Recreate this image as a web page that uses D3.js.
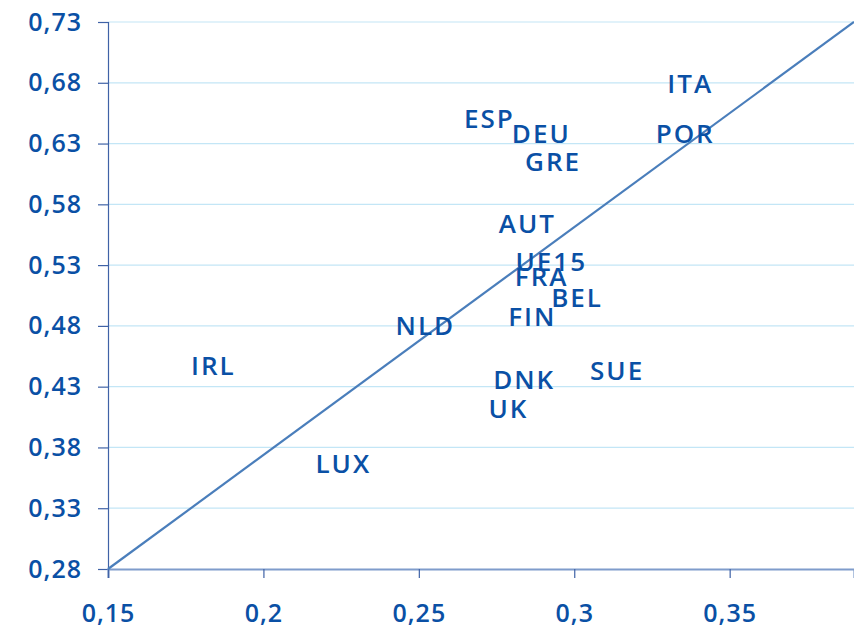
<!DOCTYPE html>
<html lang="en">
<head>
    <meta charset="UTF-8">
    <title>Scatter with diagonal</title>
    <script src="https://cdnjs.cloudflare.com/ajax/libs/d3/7.8.5/d3.min.js"></script>
    <style>
        html, body { margin: 0; padding: 0; background: #fff; }
        svg text { font-family: "Open Sans", sans-serif; font-weight: 600; fill: #0a50a5; }
    </style>
</head>
<body>
    <div id="chart"></div>
    <script>
        // Country codes and their (x, y) values
        const countries = ["ITA", "POR", "ESP", "DEU", "GRE", "AUT", "UE15", "FRA", "BEL", "FIN", "NLD", "IRL", "LUX", "DNK", "UK", "SUE"];
        const xValues = [0.3373, 0.3357, 0.2727, 0.2894, 0.2932, 0.2849, 0.2926, 0.2895, 0.3009, 0.2865, 0.2521, 0.1839, 0.2257, 0.2839, 0.2788, 0.3138];
        const yValues = [0.680, 0.639, 0.651, 0.639, 0.6155, 0.5645, 0.5332, 0.5209, 0.504, 0.488, 0.4806, 0.448, 0.367, 0.4361, 0.4123, 0.4435];

        // Reference diagonal
        const lineX = [0.15, 0.39];
        const lineY = [0.28, 0.73];

        // Tick labels
        const xTicks = [0.15, 0.2, 0.25, 0.3, 0.35];
        const yTicks = [0.28, 0.33, 0.38, 0.43, 0.48, 0.53, 0.58, 0.63, 0.68, 0.73];

        const W = 854, H = 628;
        const margin = { top: 22, right: 0, bottom: 59, left: 108 };

        const svg = d3.select("#chart").append("svg")
            .attr("width", W)
            .attr("height", H);

        const x = d3.scaleLinear().domain([0.15, 0.39]).range([margin.left, W - margin.right]);
        const y = d3.scaleLinear().domain([0.28, 0.73]).range([H - margin.bottom, margin.top]);

        const comma = d => String(d).replace(".", ",");

        // Horizontal gridlines
        svg.append("g")
            .selectAll("line")
            .data(yTicks.slice(1))
            .join("line")
            .attr("x1", margin.left)
            .attr("x2", W - margin.right)
            .attr("y1", d => y(d))
            .attr("y2", d => y(d))
            .attr("stroke", "#c3e6f6")
            .attr("stroke-width", 1.2);

        // Y axis
        const yAxis = svg.append("g")
            .attr("transform", "translate(" + margin.left + ",0)")
            .call(d3.axisLeft(y).tickValues(yTicks).tickFormat(comma).tickSize(10).tickPadding(16));
        yAxis.select(".domain").attr("stroke", "#3f62a6").attr("stroke-width", 1.2);
        yAxis.selectAll(".tick line").attr("stroke", "#3f62a6").attr("stroke-width", 1.2);
        yAxis.selectAll("text")
            .attr("font-size", 25)
            .style("letter-spacing", "1px")
            .attr("fill", "#0a50a5");

        // X axis
        const xAxis = svg.append("g")
            .attr("transform", "translate(0," + y(0.28) + ")")
            .call(d3.axisBottom(x).tickValues(xTicks).tickFormat(comma).tickSize(9).tickPadding(26));
        xAxis.select(".domain").attr("stroke", "#7f9ccb").attr("stroke-width", 2.2);
        xAxis.selectAll(".tick line").attr("stroke", "#3f62a6").attr("stroke-width", 1.2);
        xAxis.selectAll("text")
            .attr("font-size", 25)
            .style("letter-spacing", "1px")
            .attr("fill", "#0a50a5");

        // Diagonal line
        svg.append("path")
            .datum(lineX.map((v, i) => [v, lineY[i]]))
            .attr("fill", "none")
            .attr("stroke", "#4a7ebb")
            .attr("stroke-width", 2.2)
            .attr("d", d3.line().x(d => x(d[0])).y(d => y(d[1])));

        // Country labels
        svg.append("g")
            .selectAll("text")
            .data(countries)
            .join("text")
            .attr("x", (d, i) => x(xValues[i]))
            .attr("y", (d, i) => y(yValues[i]))
            .attr("text-anchor", "middle")
            .attr("dominant-baseline", "central")
            .attr("font-size", 26)
            .style("letter-spacing", "2px")
            .text(d => d);
    </script>
</body>
</html>
